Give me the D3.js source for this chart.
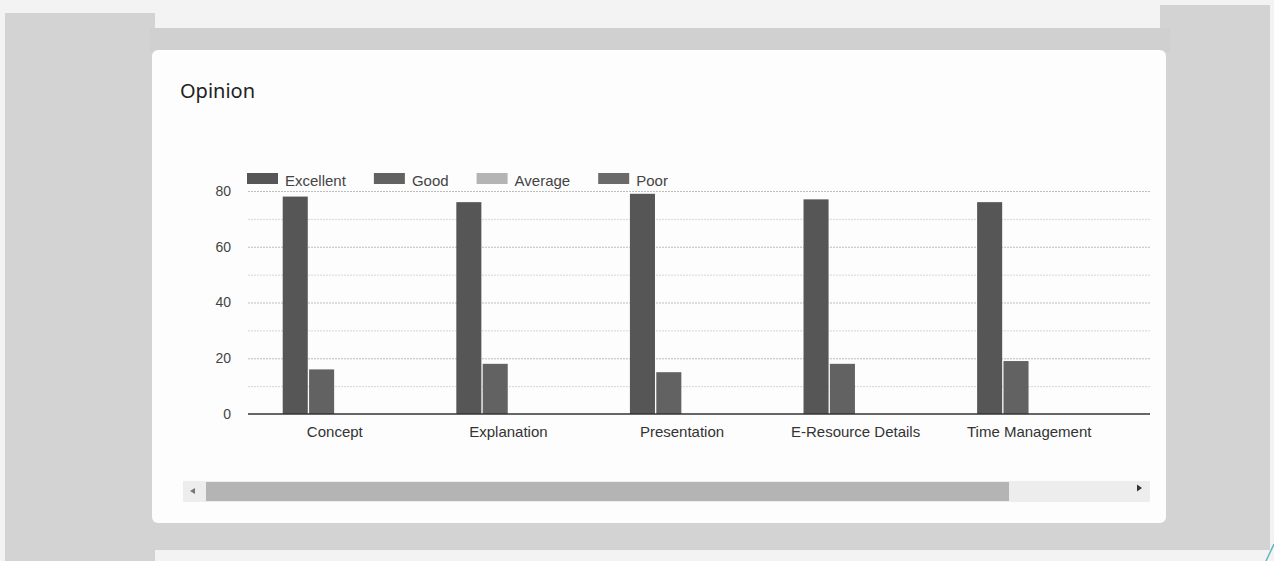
<!DOCTYPE html>
<html>
<head>
<meta charset="utf-8">
<script src="https://cdn.jsdelivr.net/npm/d3@7"></script>
<style>
  body { margin: 0; background: #f3f3f3; }
  svg { display: block; }
</style>
</head>
<body>
<div id="main"></div>
<script>
// data
const categories = ["Concept", "Explanation", "Presentation", "E-Resource Details", "Time Management"];
const seriesNames = ["Excellent", "Good", "Average", "Poor"];
const excellent = [78, 76, 79, 77, 76];
const good = [16, 18, 15, 18, 19];
const average = [0, 0, 0, 0, 0];
const poor = [0, 0, 0, 0, 0];
const yTicks = [0, 20, 40, 60, 80];

const seriesValues = [excellent, good, average, poor];
const colors = ["#565656", "#626262", "#b4b4b4", "#6a6a6a"];

const W = 1274, H = 561;
const svg = d3.select("#main").append("svg").attr("width", W).attr("height", H);

// page behind the card (scanned grey blocks)
const bg = svg.append("g");
bg.append("rect").attr("x", 0).attr("y", 0).attr("width", W).attr("height", H).attr("fill", "#f3f3f3");
bg.append("rect").attr("x", 5).attr("y", 13).attr("width", 150).attr("height", H - 13).attr("fill", "#d3d3d3");
bg.append("rect").attr("x", 1160).attr("y", 5).attr("width", 110).attr("height", 545).attr("fill", "#d3d3d3");
bg.append("rect").attr("x", 150).attr("y", 28).attr("width", 1020).attr("height", 24).attr("fill", "#d0d0d0");
bg.append("rect").attr("x", 150).attr("y", 521).attr("width", 1020).attr("height", 29).attr("fill", "#d3d3d3");
// card
bg.append("rect").attr("x", 152).attr("y", 50).attr("width", 1014).attr("height", 473)
  .attr("rx", 6).attr("fill", "#fdfdfd");
bg.append("line").attr("x1", 1266).attr("y1", 561).attr("x2", 1274).attr("y2", 544)
  .attr("stroke", "#5bb8c0").attr("stroke-width", 1.5);

// title
svg.append("text").attr("x", 180).attr("y", 98)
  .attr("font-family", "'Noto Sans', sans-serif").attr("font-size", 20)
  .attr("fill", "#222").text("Opinion");

// scales
const plotLeft = 248, plotRight = 1150;
const x0 = d3.scaleBand().domain(categories).range([plotLeft, 1116])
  .paddingInner(0.4).paddingOuter(0.2);
const x1 = d3.scaleBand().domain(seriesNames).range([0, x0.bandwidth()]).paddingInner(0.05);
const y = d3.scaleLinear().domain([0, 80]).range([414, 191]);
const color = d3.scaleOrdinal().domain(seriesNames).range(colors);

// gridlines: minor then major
const minor = y.ticks(8).filter(d => yTicks.indexOf(d) < 0);
svg.append("g").attr("transform", `translate(${plotLeft},0)`)
  .call(d3.axisLeft(y).tickValues(minor).tickSize(-(plotRight - plotLeft)).tickFormat(""))
  .call(g => g.select(".domain").remove())
  .call(g => g.selectAll("line").attr("stroke", "#d6d6d6").attr("stroke-dasharray", "2,1"));
svg.append("g").attr("transform", `translate(${plotLeft},0)`)
  .call(d3.axisLeft(y).tickValues(yTicks.filter(d => d > 0)).tickSize(-(plotRight - plotLeft)).tickFormat(""))
  .call(g => g.select(".domain").remove())
  .call(g => g.selectAll("line").attr("stroke", "#bdbdbd").attr("stroke-dasharray", "2,1"));

// y labels
svg.append("g").attr("transform", `translate(${plotLeft},0)`)
  .call(d3.axisLeft(y).tickValues(yTicks).tickSize(0).tickPadding(17))
  .call(g => g.select(".domain").remove())
  .call(g => g.selectAll("text").attr("font-family", "'Liberation Sans', Arial, sans-serif")
    .attr("font-size", 14).attr("fill", "#444"));

// bars
const rows = categories.map((c, i) => ({
  cat: c,
  vals: seriesNames.map((s, j) => ({ key: s, value: seriesValues[j][i] }))
}));
svg.append("g").selectAll("g").data(rows).join("g")
  .attr("transform", d => `translate(${x0(d.cat)},0)`)
  .selectAll("rect").data(d => d.vals.filter(v => v.value > 0)).join("rect")
  .attr("x", d => x1(d.key))
  .attr("y", d => y(d.value))
  .attr("width", x1.bandwidth())
  .attr("height", d => y(0) - y(d.value))
  .attr("fill", d => color(d.key));

// baseline
svg.append("line").attr("x1", plotLeft).attr("x2", plotRight)
  .attr("y1", y(0)).attr("y2", y(0)).attr("stroke", "#333").attr("stroke-width", 1.5);

// x labels
svg.append("g").attr("transform", `translate(0,${y(0)})`)
  .call(d3.axisBottom(x0).tickSize(0).tickPadding(12))
  .call(g => g.select(".domain").remove())
  .call(g => g.selectAll("text").attr("font-family", "'Liberation Sans', Arial, sans-serif")
    .attr("font-size", 15).attr("fill", "#333"));

// legend
const legend = svg.append("g").attr("transform", "translate(247,0)");
let lx = 0;
seriesNames.forEach(s => {
  const item = legend.append("g").attr("transform", `translate(${lx},0)`);
  item.append("rect").attr("x", 0).attr("y", 173).attr("width", 31).attr("height", 11).attr("fill", color(s));
  const t = item.append("text").attr("x", 38).attr("y", 186)
    .attr("font-family", "'Liberation Sans', Arial, sans-serif").attr("font-size", 15)
    .attr("fill", "#444").text(s);
  lx += 38 + t.node().getComputedTextLength() + 28;
});

// scrollbar
const sb = svg.append("g");
sb.append("rect").attr("x", 183).attr("y", 481).attr("width", 967).attr("height", 21).attr("fill", "#ededed");
sb.append("rect").attr("x", 206).attr("y", 482).attr("width", 803).attr("height", 19).attr("fill", "#b4b4b4");
sb.append("path").attr("d", "M190,491 L195,488 L195,494 Z").attr("fill", "#777");
sb.append("path").attr("d", "M1142,488 L1137,484.5 L1137,491.5 Z").attr("fill", "#333");
</script>
</body>
</html>
